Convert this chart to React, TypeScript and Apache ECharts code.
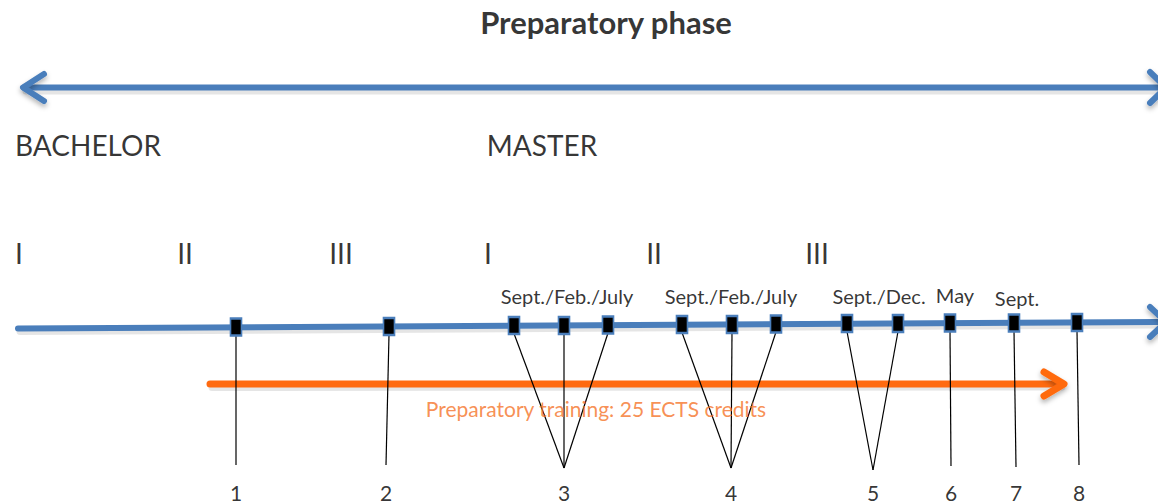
import React, { useEffect, useRef } from "react";
import * as echarts from "echarts";

// ---- data ----
const titleText = "Preparatory phase";
const degreeLabels = ["BACHELOR", "MASTER"];
const degreeX = [88, 542];
const yearLabels = ["I", "II", "III", "I", "II", "III"];
const yearX = [19, 185, 341, 488, 654, 817];
const milestoneX = [236, 389, 514, 564, 608, 682, 732, 776, 847, 898, 950, 1014, 1077];
const milestoneY = [327, 326.5, 325.5, 325.5, 325, 324.5, 324.5, 324, 323.5, 323.5, 323, 323, 322.5];
const periodLabels = ["Sept./Feb./July", "Sept./Feb./July", "Sept./Dec.", "May", "Sept."];
const periodX = [567, 731, 879, 955, 1017];
const periodY = [296, 296, 296, 295, 298];
const stepLabels = ["1", "2", "3", "4", "5", "6", "7", "8"];
const stepX = [236, 386, 564, 731, 873, 951, 1016, 1079];
const stepEndY = [465, 465, 468, 468, 470, 466, 467, 465];
const stepMilestones = [[0], [1], [2, 3, 4], [5, 6, 7], [8, 9], [10], [11], [12]];
const trainingText = "Preparatory training: 25 ECTS credits";

const BLUE = "#4a7ebb";
const ORANGE = "#ff6a10";
const FONT = "Lato";

const shadow = { shadowColor: "rgba(0,0,0,0.3)", shadowBlur: 5, shadowOffsetY: 3 };

function textSeries(names: string[], xs: number[], ys: number[], size: number, color: string, weight: string = "normal") {
  return {
    type: "scatter",
    symbolSize: 0,
    z: 10,
    silent: true,
    data: names.map((n, i) => ({ name: n, value: [xs[i], ys[i]] })),
    label: {
      show: true,
      position: "inside",
      formatter: "{b}",
      color,
      fontFamily: FONT,
      fontSize: size,
      fontWeight: weight,
      align: "center",
      verticalAlign: "middle",
    },
  };
}

function linesSeries(data: any[], lineStyle: any, z: number) {
  return {
    type: "lines",
    coordinateSystem: "cartesian2d",
    polyline: true,
    silent: true,
    z,
    lineStyle,
    data,
  };
}

export default function App() {
  const ref = useRef<HTMLDivElement>(null);
  useEffect(() => {
    if (!ref.current) return;
    const chart = echarts.init(ref.current, undefined, { renderer: "svg" });

    const base = { opacity: 1, cap: "round", join: "round" };
    const blueShaft = { ...base, color: BLUE, width: 6 };
    const blueHead = { ...base, color: BLUE, width: 6, ...shadow };
    const shaftShadow = { ...base, color: "rgba(0,0,0,0.10)", width: 7 };
    const orangeShaft = { ...base, color: ORANGE, width: 7 };
    const orangeHead = { ...base, color: ORANGE, width: 7, ...shadow };
    const thin = { color: "#000", width: 1.2, opacity: 1 };

    const connectors: any[] = [];
    stepMilestones.forEach((group, s) => {
      group.forEach((m) => {
        connectors.push({
          coords: [[milestoneX[m], milestoneY[m] + 8], [stepX[s], stepEndY[s]]],
        });
      });
    });

    chart.setOption({
      animation: false,
      backgroundColor: "#fff",
      grid: { left: 0, right: 0, top: 0, bottom: 0 },
      xAxis: { type: "value", min: 0, max: 1158, show: false },
      yAxis: { type: "value", min: 0, max: 504, inverse: true, show: false },
      series: [
        linesSeries(
          [
            { coords: [[26, 91], [1166, 91]] },
            { coords: [[20, 331.5], [1165, 325]] },
            { coords: [[212, 387.5], [1062, 387]] },
          ],
          shaftShadow,
          1
        ),
        linesSeries(
          [
            { coords: [[24, 87.5], [1166, 87.5]] },
            { coords: [[18, 328.5], [1165, 322]] },
          ],
          blueShaft,
          2
        ),
        linesSeries(
          [
            { coords: [[44, 74], [23, 87.5], [44, 101]] },
            { coords: [[1150, 72], [1166, 87.5], [1150, 103]] },
            { coords: [[1150, 307], [1166, 322], [1150, 337]] },
          ],
          blueHead,
          2
        ),
        linesSeries([{ coords: [[210, 384], [1062, 384]] }], orangeShaft, 3),
        linesSeries([{ coords: [[1044, 372], [1064, 384], [1044, 396]] }], orangeHead, 3),
        linesSeries(connectors, thin, 4),
        {
          type: "scatter",
          symbol: "rect",
          symbolSize: [11, 17],
          z: 5,
          silent: true,
          itemStyle: { color: "#000", borderColor: BLUE, borderWidth: 2, opacity: 1 },
          data: milestoneX.map((x, i) => [x, milestoneY[i]]),
        },
        textSeries([titleText], [606], [22], 31, "#000", "bold"),
        textSeries(degreeLabels, degreeX, [145, 145], 28, "#000"),
        textSeries(yearLabels, yearX, yearX.map(() => 253), 28, "#000"),
        textSeries(periodLabels, periodX, periodY, 20, "#000"),
        textSeries(stepLabels, stepX, stepX.map(() => 492), 21, "#000"),
        textSeries([trainingText], [596], [408], 21, "#f57328"),
      ],
    });
    return () => chart.dispose();
  }, []);
  return <div ref={ref} style={{ position: "fixed", left: 0, top: 0, width: 1158, height: 504 }} />;
}
